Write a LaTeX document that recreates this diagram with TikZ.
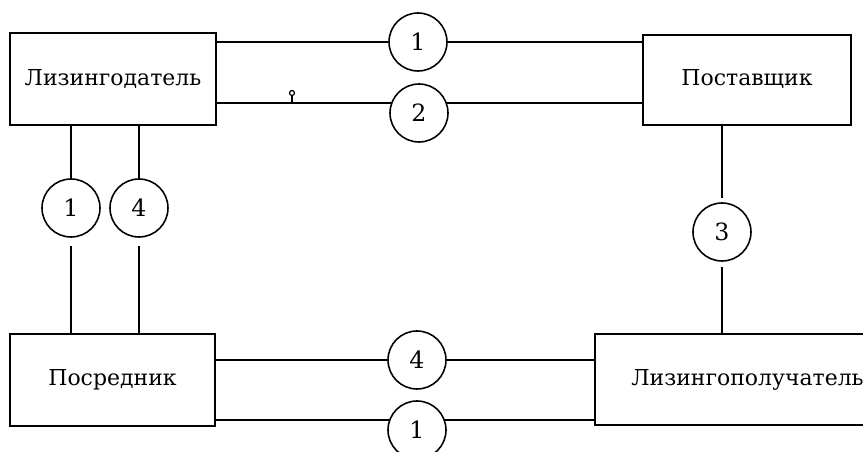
\documentclass[tikz,border=0pt]{standalone}
\usepackage{fontspec}
\setmainfont{DejaVu Serif}
\usetikzlibrary{calc}
\begin{document}
\begin{tikzpicture}[x=0.02cm,y=-0.02cm,
  party/.style={draw,line width=0.9pt,rectangle,inner sep=0pt,font=\fontsize{12.5}{14}\selectfont},
  num/.style={draw,line width=0.9pt,circle,minimum size=1.16cm,inner sep=0pt,font=\fontsize{13.5}{15}\selectfont},
  link/.style={line width=0.9pt}]
\useasboundingbox (0,0) rectangle (863,452);
% parties
\node[party,minimum width=4.12cm,minimum height=1.84cm] (A) at (113,79) {\raisebox{2pt}{Лизингодатель}};
\node[party,minimum width=4.16cm,minimum height=1.80cm] (B) at (747,80) {\raisebox{2.5pt}{Поставщик}};
\node[party,minimum width=4.10cm,minimum height=1.84cm] (C) at (112.5,380) {\raisebox{-1.5pt}{Посредник}};
\node[party,minimum width=6.10cm,minimum height=1.82cm] (D) at (747.5,379.5) {\raisebox{-3pt}{Лизингополучатель}};
% numbered circles
\node[num] (t1) at (418,42) {1};
\node[num] (t2) at (419,113) {2};
\node[num] (l1) at (71,208) {1};
\node[num] (l4) at (139,208) {4};
\node[num] (r3) at (722,232) {3};
\node[num] (b4) at (417,360) {4};
\node[num] (b1) at (417,430) {1};
% top connectors
\draw[link] (A.east |- t1.west) -- (t1.west);
\draw[link] (t1.east) -- (B.west |- t1.east);
\draw[link] (A.east |- t2.160) -- (t2.160);
\draw[link] (t2.20) -- (B.west |- t2.20);
% left connectors
\draw[link] (A.south -| l1) -- (l1.north);
\draw[link] ($(l1.south)+(0,8)$) -- (C.north -| l1);
\draw[link] (A.south -| l4) -- (l4.north);
\draw[link] ($(l4.south)+(0,8)$) -- (C.north -| l4);
% right connectors
\draw[link] (B.south -| r3) -- ($(r3.north)+(0,-4)$);
\draw[link] ($(r3.south)+(0,5)$) -- (D.north -| r3);
% bottom connectors
\draw[link] (C.east |- b4.west) -- (b4.west);
\draw[link] (b4.east) -- (D.west |- b4.east);
\draw[link] (C.east |- b1.160) -- (b1.160);
\draw[link] (b1.20) -- (D.west |- b1.20);
% small mark on line 2
\draw[line width=0.7pt] (292,93) circle (2.5);
\draw[line width=0.7pt] (292,95.5) -- (292,103);
\end{tikzpicture}
\end{document}
